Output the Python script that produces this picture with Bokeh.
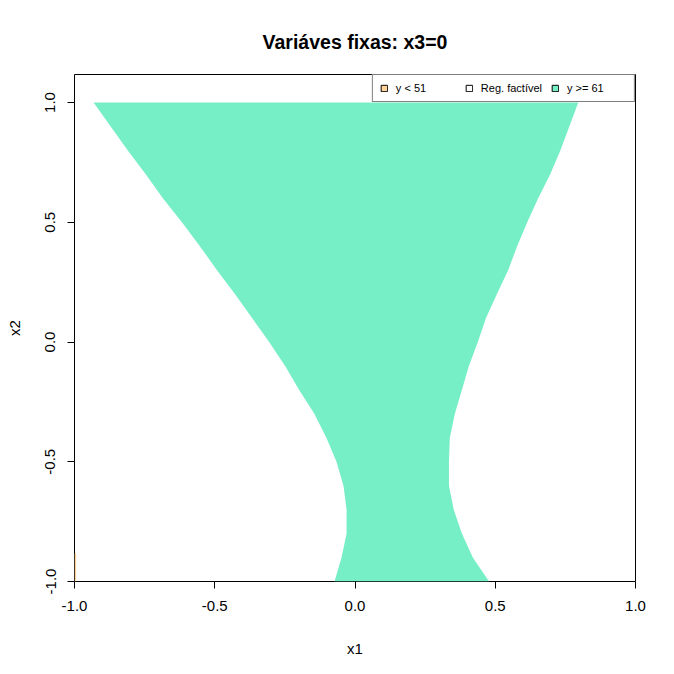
from bokeh.plotting import figure
from bokeh.models import ColumnDataSource, Legend, LegendItem, FixedTicker
from bokeh.embed import file_html
from bokeh.resources import INLINE

# ---- data ----
x2_levels = [-1.0, -0.9, -0.8, -0.7, -0.6, -0.5, -0.4, -0.3, -0.2, -0.1, 0.0,
             0.1, 0.2, 0.3, 0.4, 0.5, 0.6, 0.7, 0.8, 0.9, 1.0]
x1_left = [-0.073, -0.048, -0.030, -0.030, -0.041, -0.066, -0.102, -0.145, -0.199, -0.249, -0.306,
           -0.367, -0.428, -0.492, -0.553, -0.617, -0.685, -0.746, -0.810, -0.871, -0.932]
x1_right = [0.478, 0.420, 0.381, 0.352, 0.335, 0.335, 0.338, 0.356, 0.381, 0.406, 0.438,
            0.467, 0.506, 0.546, 0.578, 0.614, 0.653, 0.696, 0.732, 0.764, 0.796]

low_left = [-1.0]
low_right = [-0.994]
low_bottom = [-1.0]
low_top = [-0.883]

legend_labels = ["y < 51", "Reg. factível", "y >= 61"]
tick_values = [-1.0, -0.5, 0.0, 0.5, 1.0]
tick_labels = ["-1.0", "-0.5", "0.0", "0.5", "1.0"]

GREEN = "#76EEC6"
ORANGE = "#FFD39B"
FONT = "Liberation Sans"
NAN = float("nan")

p = figure(width=674, height=674, output_backend="svg", toolbar_location=None,
           x_range=(-1.0, 1.0), y_range=(-1.0, 1.117),
           min_border_left=74, min_border_right=39, min_border_top=74, min_border_bottom=93,
           title="Variáves fixas: x3=0")
p.title.align = "center"
p.title.text_font = FONT
p.title.text_font_size = "19.5px"
p.title.text_font_style = "bold"
p.title.text_color = "black"
p.title.standoff = 43

p.grid.visible = False
p.outline_line_color = "black"
p.outline_line_width = 1
p.background_fill_color = "white"
p.border_fill_color = "white"

# high region
xs = list(x1_left) + list(reversed(x1_right))
ys = list(x2_levels) + list(reversed(x2_levels))
p.patch(xs, ys, fill_color=GREEN, line_color=None)

# low region sliver
p.quad(left=low_left, right=low_right, bottom=low_bottom, top=low_top,
       fill_color=ORANGE, line_color=None)

# legend-only renderers (no visible mark: NaN coordinates)
def legend_src():
    return ColumnDataSource(dict(left=[NAN], right=[NAN], top=[NAN], bottom=[NAN]))

r1 = p.quad(source=legend_src(), left="left", right="right", top="top", bottom="bottom",
            fill_color=ORANGE, line_color="black", line_width=1)
r2 = p.quad(source=legend_src(), left="left", right="right", top="top", bottom="bottom",
            fill_color="white", line_color="black", line_width=1)
r3 = p.quad(source=legend_src(), left="left", right="right", top="top", bottom="bottom",
            fill_color=GREEN, line_color="black", line_width=1)

legend = Legend(items=[LegendItem(label=legend_labels[0], renderers=[r1]),
                       LegendItem(label=legend_labels[1], renderers=[r2]),
                       LegendItem(label=legend_labels[2], renderers=[r3])],
                location="top_right", orientation="horizontal", margin=0,
                padding=7, spacing=9, glyph_width=8, glyph_height=8,
                label_standoff=8, label_width=60, label_height=10,
                label_text_font=FONT, label_text_font_size="11px",
                label_text_color="black",
                border_line_color="black", border_line_width=1,
                background_fill_alpha=1.0)
p.add_layout(legend)

for ax in (p.xaxis[0], p.yaxis[0]):
    ax.ticker = FixedTicker(ticks=tick_values)
    ax.major_label_overrides = {v: s for v, s in zip(tick_values, tick_labels)}
    ax.axis_line_color = None
    ax.major_tick_in = 0
    ax.major_tick_out = 7
    ax.major_tick_line_color = "black"
    ax.minor_tick_line_color = None
    ax.major_label_text_font = FONT
    ax.major_label_text_font_size = "15px"
    ax.major_label_text_color = "black"
    ax.axis_label_text_font = FONT
    ax.axis_label_text_font_size = "15px"
    ax.axis_label_text_font_style = "normal"
    ax.axis_label_text_color = "black"

p.xaxis.axis_label = "x1"
p.yaxis.axis_label = "x2"
p.xaxis.major_label_standoff = 12
p.yaxis.major_label_standoff = 12
p.yaxis.major_label_orientation = "vertical"
p.xaxis.axis_label_standoff = 26
p.yaxis.axis_label_standoff = 20

open("out.html", "w").write(file_html(p, INLINE))
